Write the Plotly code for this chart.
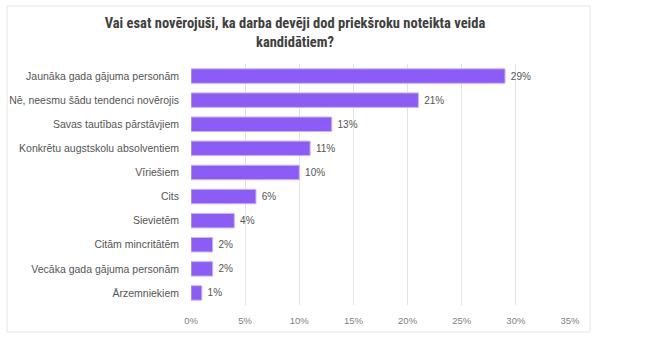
import plotly.graph_objects as go

categories = [
    "Jaunāka gada gājuma personām",
    "Nē, neesmu šādu tendenci novērojis",
    "Savas tautības pārstāvjiem",
    "Konkrētu augstskolu absolventiem",
    "Vīriešiem",
    "Cits",
    "Sievietēm",
    "Citām mincritātēm",
    "Vecāka gada gājuma personām",
    "Ārzemniekiem",
]
values = [29, 21, 13, 11, 10, 6, 4, 2, 2, 1]
x_ticks = [0, 5, 10, 15, 20, 25, 30, 35]
x_tick_labels = ["0%", "5%", "10%", "15%", "20%", "25%", "30%", "35%"]
title = "Vai esat novērojuši, ka darba devēji dod priekšroku noteikta veida<br>kandidātiem?"

fig = go.Figure(
    go.Bar(
        y=categories,
        x=values,
        orientation="h",
        marker=dict(color="#8b5cf6", line=dict(color="#c9b3fb", width=1)),
        width=0.6,
        text=[f"\u00a0{v}%" for v in values],
        textposition="outside",
        textfont=dict(family="Liberation Sans, Arial, sans-serif", size=10, color="#555555"),
        cliponaxis=False,
    )
)

L, R, T, B = 191, 90, 64, 37
pw = 660 - L - R
ph = 342 - T - B

fig.add_shape(
    type="rect", xref="paper", yref="paper",
    x0=(7 - L) / pw, x1=(590 - L) / pw,
    y0=(342 - B - 332) / ph, y1=(342 - B - 6) / ph,
    line=dict(color="#e6e6e6", width=1), fillcolor="rgba(0,0,0,0)", layer="below",
)

fig.update_layout(
    width=660, height=342,
    margin=dict(l=L, r=R, t=T, b=B, autoexpand=False),
    paper_bgcolor="white", plot_bgcolor="white",
    showlegend=False,
    title=dict(
        text=title, x=(295 - L) / pw, xref="paper", xanchor="center",
        y=(342 - 28) / 342, yanchor="top",
        font=dict(family="Roboto Condensed, Liberation Sans, sans-serif",
                  size=14.5, color="#404040", weight="bold"),
    ),
    xaxis=dict(
        range=[0, 35], tickvals=x_ticks, ticktext=x_tick_labels,
        showgrid=True, gridcolor="#e4e4e4", gridwidth=1,
        zeroline=False, showline=False, automargin=False,
        tickfont=dict(family="Liberation Sans, Arial, sans-serif", size=9.5, color="#808080"),
        ticks="", ticklabelstandoff=8,
    ),
    yaxis=dict(
        autorange="reversed", showgrid=False, zeroline=False, showline=False, automargin=False,
        tickfont=dict(family="Liberation Sans, Arial, sans-serif", size=10.5, color="#555555"),
        ticks="", ticklabelstandoff=11,
    ),
)

fig.write_html("out.html")
